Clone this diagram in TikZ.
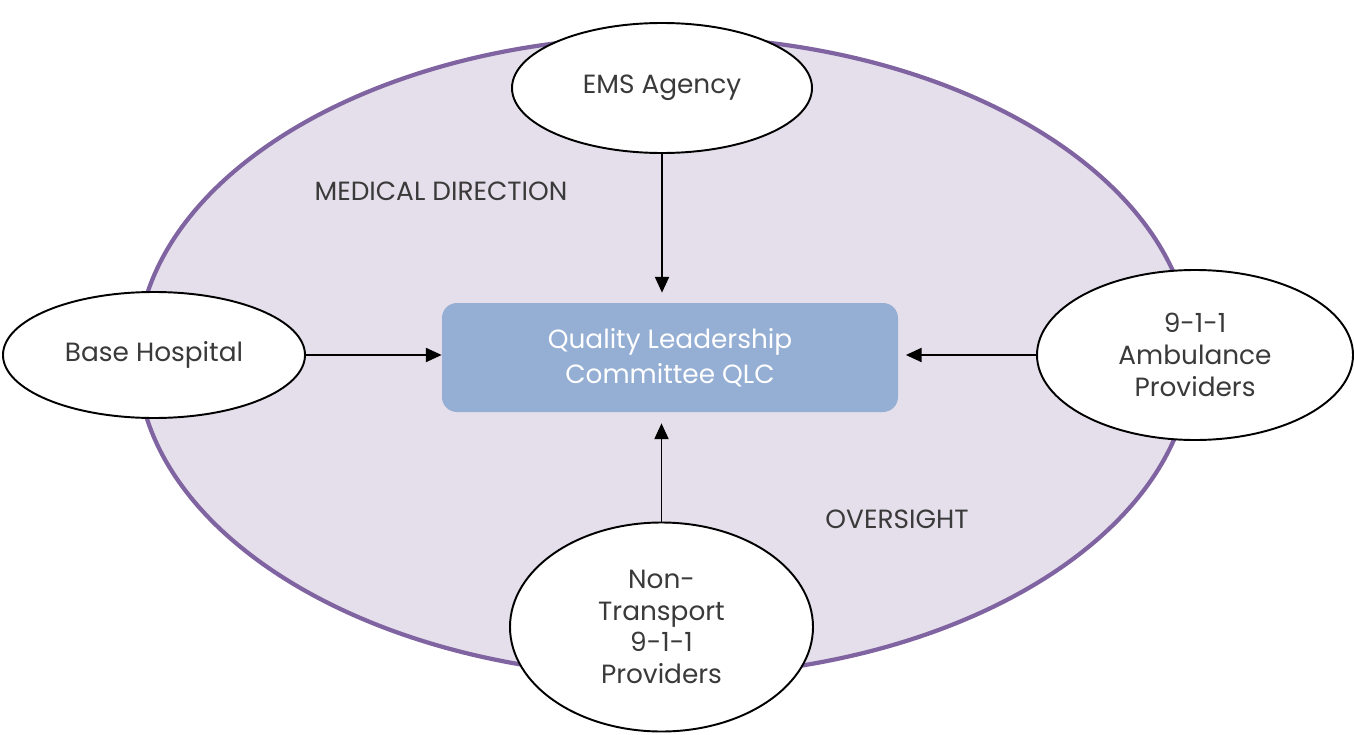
\documentclass[tikz,border=0pt]{standalone}
\usepackage{fontspec}
\setmainfont{Poppins}
\usepackage{tikz}
\usetikzlibrary{shapes.geometric,arrows.meta}
\definecolor{rimpurple}{HTML}{8064A2}
\definecolor{lavender}{HTML}{E4DFEB}
\definecolor{qlcblue}{HTML}{95AED4}
\definecolor{txtgray}{HTML}{3A3A3A}

\begin{document}
\begin{tikzpicture}[
    font=\fontsize{15}{18}\selectfont,
    party/.style={ellipse, draw=black, line width=1.1pt, fill=white, text=txtgray, align=center, inner sep=0pt},
    flow/.style={-{Triangle[length=9pt,width=8pt]}, line width=1.1pt},
    lbl/.style={text=txtgray}
  ]
    \useasboundingbox (0,0) rectangle (27.08,14.68);
    % Draw outer ellipse
    \draw[rimpurple, fill=lavender, line width=2.4pt] (13.29,7.55) ellipse (10.55 and 6.4);
    % Draw committee box
    \node[fill=qlcblue, rounded corners=0.3cm, minimum width=9.12cm, minimum height=2.18cm,
          text=white, align=center, font=\fontsize{15}{20}\selectfont] (qlc) at (13.4,7.53) {Quality Leadership\\Committee QLC};
    % Draw the four parties
    \node[party, minimum width=6cm, minimum height=2.6cm] (ems) at (13.24,12.92) {EMS Agency};
    \node[party, minimum width=6.04cm, minimum height=2.52cm] (base) at (3.08,7.58) {Base Hospital};
    \node[party, minimum width=6.32cm, minimum height=3.4cm] (amb) at (23.9,7.58) {9-1-1\\Ambulance\\Providers};
    \node[party, minimum width=6.06cm, minimum height=4.18cm] (nontr) at (13.23,2.14) {Non-\\Transport\\9-1-1\\Providers};
    % Draw arrows into the committee
    \draw[flow, shorten >=0.2cm] (ems.south) -- (ems.south |- qlc.north);
    \draw[flow] (base.east) -- (base.east -| qlc.west);
    \draw[flow, shorten >=0.15cm] (amb.west) -- (amb.west -| qlc.east);
    \draw[flow, shorten >=0.22cm] (nontr.north) -- (nontr.north |- qlc.south);
    % Label the ring
    \node[lbl] (meddir) at (8.82,10.86) {MEDICAL DIRECTION};
    \node[lbl] (oversight) at (17.94,4.3) {OVERSIGHT};
\end{tikzpicture}
\end{document}
